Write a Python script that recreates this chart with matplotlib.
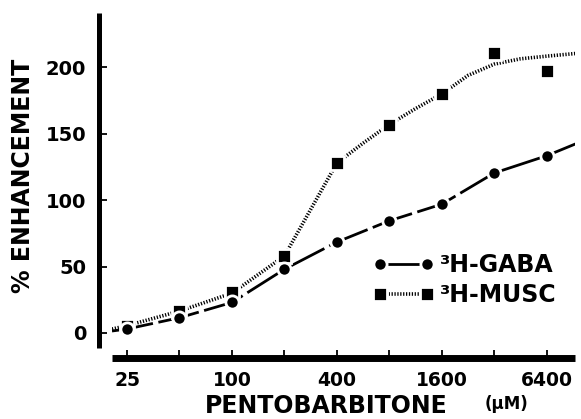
import matplotlib
matplotlib.use("Agg")
import matplotlib.pyplot as plt
from matplotlib.lines import Line2D

# ---- data ----
conc = [25, 50, 100, 200, 400, 800, 1600, 3200, 6400]          # pentobarbitone, uM
gaba = [3, 11.5, 23, 48, 68.5, 84.5, 97, 120.5, 133.5]           # % enhancement, 3H-GABA
musc = [5.5, 16.5, 30.5, 58, 128, 157, 180, 210.5, 197]          # % enhancement, 3H-MUSC

# drawn lines
gaba_line_x = [20.5, 25, 50, 100, 200, 400, 800, 1600, 3200, 6400, 9400]
gaba_line_y = [1.5, 3, 11.5, 23, 48, 68.5, 84.5, 97, 120.5, 133.5, 142.5]
musc_fit_x = [20.5, 25, 50, 100, 200, 400, 566, 800, 1131, 1600, 2263, 3200, 4525, 6400, 9400]
musc_fit_y = [3, 5.5, 16.5, 30, 58, 128, 143, 157, 169, 180, 194, 202.5, 206.5, 208.5, 210.5]

xticks = [25, 50, 100, 200, 400, 800, 1600, 3200, 6400]
xticklabels = ["25", "", "100", "", "400", "", "1600", "", "6400"]
yticks = [0, 50, 100, 150, 200]

plt.rcParams["font.family"] = ["DejaVu Sans"]
plt.rcParams["font.weight"] = "bold"

W, H = 581, 419
fig = plt.figure(figsize=(W / 100, H / 100), dpi=100)
ax = fig.add_axes([112 / W, 1 - 348 / H, (575 - 112) / W, (348 - 13) / H])
ax.set_xscale("log", base=2)
ax.set_xlim(20.5, 9300)
ax.set_ylim(-11.3, 241)

# lines
ax.plot(gaba_line_x, gaba_line_y, color="black", lw=2.0, ls=(0, (15, 2)), zorder=2)
ax.plot(musc_fit_x, musc_fit_y, color="black", lw=2.6, ls=(0, (0.35, 0.45)), zorder=2)

# markers (white edge makes gaps in lines around markers)
ax.plot(conc, gaba, ls="none", marker="o", ms=9.5, mfc="black", mec="white", mew=2.0, zorder=4)
ax.plot(conc, musc, ls="none", marker="s", ms=10, mfc="black", mec="white", mew=2.0, zorder=3)

# spines
for s in ["top", "right"]:
    ax.spines[s].set_visible(False)
ax.spines["left"].set_position(("outward", 9.5))
ax.spines["bottom"].set_position(("outward", 7.5))
ax.spines["left"].set_linewidth(3.6)
ax.spines["bottom"].set_linewidth(5.0)
ax.spines["left"].set_capstyle("butt")
ax.spines["bottom"].set_capstyle("butt")

ax.set_xticks(xticks)
ax.set_xticklabels(xticklabels)
ax.minorticks_off()
ax.set_yticks(yticks)
ax.set_yticklabels([str(v) for v in yticks])
ax.tick_params(axis="x", direction="in", length=6, width=1.3, pad=9, labelsize=13.5)
ax.tick_params(axis="y", direction="in", length=6, width=1.3, pad=9, labelsize=14)

# axis labels
fig.text(23 / W, 1 - 176 / H, "% ENHANCEMENT", rotation=90, ha="center", va="center",
         fontsize=17, fontweight="bold")
fig.text(326 / W, 1 - 406 / H, "PENTOBARBITONE", ha="center", va="center",
         fontsize=17, fontweight="bold")
fig.text(506 / W, 1 - 404 / H, "(\u03bcM)", ha="center", va="center",
         fontsize=12, fontweight="bold")

# legend
h1 = Line2D([], [], color="black", lw=2.0, ls="-", marker="o", ms=9.5, mfc="black",
            mec="white", mew=2.0)
h2 = Line2D([], [], color="black", lw=2.6, ls=(0, (0.35, 0.45)), marker="s", ms=10,
            mfc="black", mec="white", mew=2.0)
leg = ax.legend([h1, h2], ["\u00b3H-GABA", "\u00b3H-MUSC"], loc="upper left",
                bbox_to_anchor=(373 / W, 1 - 253 / H), bbox_transform=fig.transFigure,
                frameon=False, numpoints=2, handlelength=2.6, handletextpad=0.25,
                borderpad=0, borderaxespad=0, labelspacing=0.27,
                prop={"size": 17, "weight": "bold"})

fig.savefig("out.png", dpi=100)
